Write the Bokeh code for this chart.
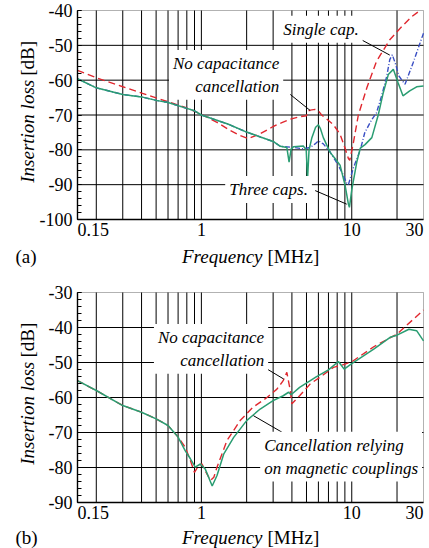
import math
from bokeh.plotting import figure
from bokeh.models import Label, Arrow, FixedTicker, SingleIntervalTicker, Range1d, BoxAnnotation
from bokeh.layouts import column
from bokeh.embed import file_html
from bokeh.resources import INLINE

# ---------------- data ----------------
# panel (a): insertion loss [dB] vs frequency [MHz]
a_red_f = [0.15, 0.2, 0.3, 0.4, 0.5, 0.6, 0.8, 1.0, 1.27, 1.56, 1.81, 2.05, 2.46, 3.0, 3.43,
           3.9, 4.5, 5.0, 5.1, 5.3, 5.7, 6.0, 6.3, 6.8, 7.55, 8.36, 9.0, 9.5, 9.7, 10.25,
           11.06, 12.6, 14.6, 17.9, 21.0, 25.0, 28.4]
a_red_db = [-57.2, -59.3, -61.9, -63.7, -65.1, -66.2, -68.0, -69.8, -72.1, -74.5, -75.9, -76.8, -75.4, -73.3, -72.2,
            -71.2, -70.5, -70.2, -68.9, -68.6, -68.4, -68.8, -70.0, -71.1, -72.8, -75.5, -79.4, -82.5, -83.0, -78.0,
            -70.0, -62.2, -54.6, -48.4, -45.1, -41.8, -40.0]

a_blue_f = [0.15, 0.2, 0.3, 0.4, 0.5, 0.6, 0.8, 0.9, 1.0, 1.5, 2.0, 2.5, 3.0, 3.35, 4.1, 4.76,
            5.3, 5.7, 6.0, 6.47, 7.2, 7.9, 8.6, 9.27, 9.5, 10.25, 11.4, 12.2, 13.5, 14.6,
            15.8, 17.1, 17.9, 18.6, 19.6, 20.6, 22.6, 25.6, 30.0]
a_blue_db = [-59.6, -62.2, -64.1, -64.8, -65.8, -66.4, -68.1, -68.8, -70.0, -72.6, -74.9, -76.4, -77.6, -79.0, -79.3, -79.7,
             -79.3, -78.3, -77.4, -78.3, -80.7, -83.5, -86.4, -89.6, -90.0, -85.2, -80.0, -75.1, -71.5, -69.4,
             -64.5, -58.8, -54.1, -52.7, -55.5, -58.8, -61.2, -55.0, -46.5]

a_green_f = [0.15, 0.2, 0.3, 0.4, 0.5, 0.6, 0.8, 0.9, 1.0, 1.5, 2.0, 2.5, 3.0, 3.35, 3.7, 3.83,
             3.95, 4.1, 4.76, 4.98, 5.08, 5.2, 5.43, 5.75, 6.0, 6.2, 6.47, 7.2, 7.74, 8.36,
             9.03, 9.5, 9.65, 10.0, 10.8, 11.4, 12.25, 13.6, 15.0, 16.2, 17.5, 18.9, 20.3,
             21.9, 24.3, 27.0, 30.0]
a_green_db = [-59.6, -62.2, -64.1, -64.8, -65.8, -66.4, -68.1, -68.8, -70.0, -72.6, -74.9, -76.4, -77.6, -79.0, -79.3, -83.5,
              -79.8, -79.1, -78.9, -80.0, -88.5, -80.0, -76.5, -73.5, -72.8, -74.0, -76.5, -80.8, -82.5, -84.4,
              -90.2, -95.6, -96.5, -91.5, -83.5, -79.5, -78.5, -76.5, -70.0, -63.6, -58.4, -56.9, -60.7,
              -64.5, -63.1, -61.9, -61.7]

# panel (b)
b_red_f = [0.15, 0.2, 0.3, 0.4, 0.5, 0.6, 0.7, 0.78, 0.845, 0.9, 0.96, 1.01, 1.06, 1.15, 1.21,
           1.27, 1.48, 1.81, 2.2, 2.73, 3.18, 3.5, 3.7, 3.9, 4.0, 4.5, 5.3, 6.15, 7.55, 8.8,
           10.0, 14.0, 20.0, 30.0]
b_red_db = [-55.2, -58.0, -62.3, -64.2, -66.1, -68.0, -71.3, -74.2, -78.0, -81.4, -79.4, -79.0, -80.9, -83.7, -82.8,
            -79.9, -72.3, -66.6, -62.8, -60.0, -57.6, -55.2, -52.8, -58.0, -61.8, -59.5, -56.1, -54.2, -51.4, -50.6,
            -49.8, -45.5, -41.9, -35.0]

b_green_f = [0.15, 0.2, 0.3, 0.4, 0.5, 0.6, 0.7, 0.78, 0.845, 0.91, 0.985, 1.06, 1.18, 1.27, 1.41,
             1.64, 2.0, 2.46, 3.0, 3.5, 3.8, 3.95, 4.5, 5.3, 5.8, 7.0, 8.15, 8.9, 10.0, 14.0,
             18.0, 20.0, 24.0, 27.0, 30.0]
b_green_db = [-55.2, -58.0, -62.3, -64.2, -66.1, -68.0, -71.3, -75.2, -77.5, -79.9, -79.0, -80.4, -85.3, -82.3, -76.1,
              -71.4, -66.6, -63.3, -60.9, -59.5, -58.5, -59.2, -57.1, -55.2, -54.1, -52.1, -49.7, -51.9, -50.3, -46.2,
              -42.8, -42.2, -40.5, -40.9, -43.8]

F_MIN, F_MAX = 0.15, 30.0
x_tick_labels = ["0.15", "1", "10", "30"]
a_y_ticks = [-100, -90, -80, -70, -60, -50, -40]
b_y_ticks = [-90, -80, -70, -60, -50, -40, -30]
grid_freqs = [k * 10.0 ** e for e in (-1, 0, 1) for k in range(1, 10) if F_MIN < k * 10.0 ** e < F_MAX]

# ---------------- layout / styling ----------------
FONT = "'Liberation Serif', 'Times New Roman', serif"
FS_NOTE = "17px"     # annotations
FS_TICK = "18px"     # tick labels
FS_TITLE = "19px"    # axis titles
RED, BLUE, GREEN = "#e0282f", "#3a4fc4", "#2a9d72"
W = 429                      # canvas width
BOX_L, BOX_W = 77, 346       # plot box left offset and width (px)
PXD = BOX_W / math.log10(F_MAX / F_MIN)   # px per decade


def fx(px):
    """frequency at px pixels right of the plot-box left edge"""
    return F_MIN * 10 ** (px / PXD)


def text(p, s, x, y, align="left", italic=True, angle=0.0, bg=None, base="middle", size=FS_NOTE):
    kw = {}
    if bg:
        kw = dict(background_fill_color=bg, padding=4)
    p.add_layout(Label(x=x, y=y, text=s, text_align=align, text_baseline=base,
                       text_font=FONT, text_font_size=size, text_color="black",
                       text_font_style="italic" if italic else "normal", angle=angle, **kw))


def leader(p, x0, y0, x1, y1):
    p.add_layout(Arrow(end=None, x_start=x0, y_start=y0, x_end=x1, y_end=y1,
                       line_color="black", line_width=1))


def panel(y_ticks, top, box_h, below):
    y_lo, y_hi = min(y_ticks), max(y_ticks)
    pdb = box_h / (y_hi - y_lo)
    p = figure(x_axis_type="log",
               x_range=Range1d(fx(-BOX_L), fx(W - BOX_L)),
               y_range=Range1d(y_lo - below / pdb, y_hi + top / pdb),
               frame_width=W, frame_height=top + box_h + below, min_border=0,
               output_backend="svg", toolbar_location=None)
    p.background_fill_color = "white"
    p.border_fill_color = "white"
    p.outline_line_color = None
    p.xgrid.visible = False
    p.ygrid.visible = False
    # grid lines limited to the plot box
    yt = y_ticks[1:-1]
    p.segment(x0=grid_freqs, y0=[y_lo] * len(grid_freqs), x1=grid_freqs, y1=[y_hi] * len(grid_freqs),
              line_color="black", line_width=1)
    p.segment(x0=[F_MIN] * len(yt), y0=yt, x1=[F_MAX] * len(yt), y1=yt, line_color="black", line_width=1)
    p.add_layout(BoxAnnotation(left=F_MIN, right=F_MAX, bottom=y_lo, top=y_hi, fill_color=None,
                               line_color="black", line_width=1, level="underlay"))
    ya = p.yaxis[0]
    ya.fixed_location = F_MIN
    ya.bounds = (y_lo, y_hi)
    ya.ticker = SingleIntervalTicker(interval=10, num_minor_ticks=5)
    ya.major_label_overrides = {t: "%d" % t for t in y_ticks}
    ya.major_tick_in = 4
    ya.major_tick_out = 0
    ya.minor_tick_in = 4
    ya.minor_tick_out = 0
    ya.minor_tick_line_color = "black"
    ya.major_label_standoff = 5
    xa = p.xaxis[0]
    xa.fixed_location = y_lo
    xa.bounds = (F_MIN, F_MAX)
    xa.ticker = FixedTicker(ticks=[1, 10])
    xa.major_label_overrides = {1: x_tick_labels[1], 10: x_tick_labels[2]}
    xa.major_tick_in = 0
    xa.major_tick_out = 0
    xa.minor_tick_in = 0
    xa.minor_tick_out = 0
    xa.major_label_standoff = 3
    for ax in (xa, ya):
        ax.axis_line_color = "black"
        ax.axis_line_width = 1.4
        ax.major_label_text_font = FONT
        ax.major_label_text_font_size = FS_TICK
        ax.major_label_text_color = "black"
    ty = y_lo - 3 / pdb
    text(p, x_tick_labels[0], F_MIN, ty, align="left", italic=False, base="top", size=FS_TICK)
    text(p, x_tick_labels[3], F_MAX, ty, align="right", italic=False, base="top", size=FS_TICK)
    return p, pdb, y_lo


def axis_titles(p, tag, y_lo, pdb, y_split_lo, y_split_hi, below_px):
    yy = y_lo - below_px / pdb
    text(p, "Insertion loss", fx(-50), y_split_lo, align="right", angle=math.pi / 2, size=FS_TITLE)
    text(p, "[dB]", fx(-50), y_split_hi, align="left", italic=False, angle=math.pi / 2, size=FS_TITLE)
    text(p, "Frequency", fx(185), yy, align="right", size=FS_TITLE)
    text(p, "[MHz]", fx(190), yy, align="left", italic=False, size=FS_TITLE)
    text(p, tag, fx(-62), yy, align="left", italic=False, size=FS_TITLE)


# ---------------- panel (a) ----------------
pa, pdb_a, lo_a = panel(a_y_ticks, 10, 209, 51)
pa.line(a_red_f, a_red_db, line_color=RED, line_width=1.4, line_dash="7 4")
pa.line(a_blue_f, a_blue_db, line_color=BLUE, line_width=1.4, line_dash="5 2 1 2")
pa.line(a_green_f, a_green_db, line_color=GREEN, line_width=1.5)
leader(pa, 3.90, -64.1, 5.29, -68.7)
leader(pa, 11.7, -48.5, 17.9, -52.8)
leader(pa, 5.71, -91.7, 9.26, -95.6)
text(pa, "No capacitance\ncancellation", 3.5, -58.5, align="right", bg="white")
text(pa, "Single cap.", 3.29, -45.4, align="left", bg="white")
text(pa, "Three caps.", 1.44, -91.4, align="left", bg="white")
axis_titles(pa, "(a)", lo_a, pdb_a, -59.9, -58.75, 37)

# ---------------- panel (b) ----------------
pb, pdb_b, lo_b = panel(b_y_ticks, 22, 210, 46)
pb.line(b_red_f, b_red_db, line_color=RED, line_width=1.4, line_dash="7 4")
pb.line(b_green_f, b_green_db, line_color=GREEN, line_width=1.5)
leader(pb, 2.40, -50.4, 3.52, -54.7)
leader(pb, 2.22, -65.2, 3.43, -69.9)
text(pb, "No capacitance\ncancellation", 2.78, -46.1, align="right", bg="white")
text(pb, "Cancellation relying\non magnetic couplings", 2.46, -76.9, align="left", bg="white")
axis_titles(pb, "(b)", lo_b, pdb_b, -49.8, -48.6, 35)

layout = column(pa, pb)
open("out.html", "w").write(file_html(layout, INLINE))
